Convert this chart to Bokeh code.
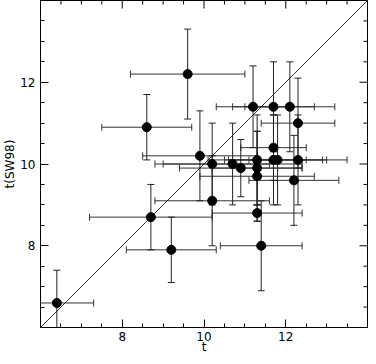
import math
from bokeh.plotting import figure
from bokeh.models import (ColumnDataSource, Whisker, TeeHead,
                          FixedTicker, Slope, Range1d)
from bokeh.embed import file_html
from bokeh.resources import INLINE

# data
t      = [6.4, 8.6, 8.7, 9.2, 9.6, 9.9, 10.2, 10.2, 10.7, 10.9, 11.2, 11.3,
          11.3, 11.3, 11.3, 11.4, 11.7, 11.7, 11.7, 11.8, 12.1, 12.2, 12.3, 12.3]
t_sw98 = [6.6, 10.9, 8.7, 7.9, 12.2, 10.2, 10.0, 9.1, 10.0, 9.9, 11.4, 10.1,
          9.9, 9.7, 8.8, 8.0, 11.4, 10.4, 10.1, 10.1, 11.4, 9.6, 11.0, 10.1]
t_err  = [0.9, 1.1, 1.5, 1.1, 1.4, 1.4, 1.4, 1.4, 1.7, 1.5, 0.9, 1.2,
          1.1, 1.4, 1.1, 1.0, 1.0, 0.8, 1.2, 1.2, 1.1, 1.1, 0.9, 1.2]
sw_err = [0.8, 0.8, 0.8, 0.8, 1.1, 1.1, 1.0, 1.1, 1.0, 0.7, 1.0, 1.1,
          0.9, 1.1, 0.2, 1.1, 1.1, 0.8, 1.1, 1.1, 1.1, 1.1, 1.1, 1.1]

major = [8, 10, 12]
minor = [6.5, 7, 7.5, 8.5, 9, 9.5, 10.5, 11, 11.5, 12.5, 13, 13.5]
lims = (6, 14)

src = ColumnDataSource(dict(
    t=t, s=t_sw98,
    tl=[a - e for a, e in zip(t, t_err)], tu=[a + e for a, e in zip(t, t_err)],
    sl=[a - e for a, e in zip(t_sw98, sw_err)], su=[a + e for a, e in zip(t_sw98, sw_err)],
))

p = figure(width=368, height=356, x_range=Range1d(*lims), y_range=Range1d(*lims),
           output_backend="svg", toolbar_location=None,
           min_border_left=33, min_border_right=1, min_border_top=0, min_border_bottom=0,
           x_axis_label="t", y_axis_label="t(SW98)")
p.grid.visible = False
p.outline_line_color = "black"
p.background_fill_color = "white"
p.border_fill_color = "white"

ticker = FixedTicker(ticks=major, minor_ticks=minor)

def style(ax):
    ax.ticker = ticker
    ax.axis_line_color = "black"
    ax.major_tick_line_color = "black"
    ax.minor_tick_line_color = "black"
    ax.major_tick_in = 8
    ax.major_tick_out = 0
    ax.minor_tick_in = 4
    ax.minor_tick_out = 0
    ax.major_label_text_font = "DejaVu Sans"
    ax.major_label_text_font_size = "12px"
    ax.major_label_text_color = "black"
    ax.major_label_standoff = 5
    ax.axis_label_text_font = "DejaVu Sans"
    ax.axis_label_text_font_size = "12px"
    ax.axis_label_text_font_style = "normal"
    ax.axis_label_text_color = "black"
    ax.axis_label_standoff = 0

for ax in p.xaxis:
    style(ax)
    ax.major_label_standoff = 4
    ax.axis_label_standoff = -4
for ax in p.yaxis:
    style(ax)
    ax.major_label_orientation = "horizontal"

# inward ticks on the top and right edges (dash markers clipped by the frame)
top_y = [lims[1]] * len(major)
top_ym = [lims[1]] * len(minor)
p.scatter(major, top_y, marker="dash", size=16, angle=math.pi / 2, line_color="black")
p.scatter(minor, top_ym, marker="dash", size=8, angle=math.pi / 2, line_color="black")
p.scatter(top_y, major, marker="dash", size=16, line_color="black")
p.scatter(top_ym, minor, marker="dash", size=8, line_color="black")

p.add_layout(Slope(gradient=1, y_intercept=0, line_color="black", line_width=0.8))

hx = Whisker(source=src, base="s", lower="tl", upper="tu", dimension="width",
             line_color="#333333", line_width=1,
             lower_head=TeeHead(size=7, line_color="#333333", line_width=1),
             upper_head=TeeHead(size=7, line_color="#333333", line_width=1))
hy = Whisker(source=src, base="t", lower="sl", upper="su", dimension="height",
             line_color="#222222", line_width=1,
             lower_head=TeeHead(size=7, line_color="#222222", line_width=1),
             upper_head=TeeHead(size=7, line_color="#222222", line_width=1))
p.add_layout(hx)
p.add_layout(hy)

p.scatter("t", "s", source=src, size=9, fill_color="black", line_color="black")

open("out.html", "w").write(file_html(p, INLINE))
